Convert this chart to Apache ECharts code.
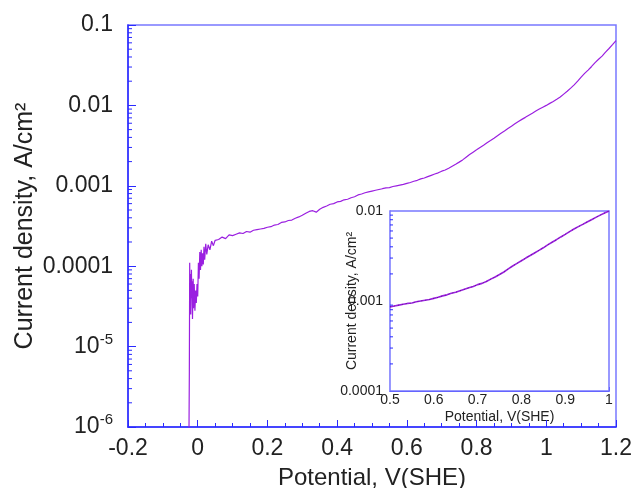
<!DOCTYPE html>
<html>
<head>
<meta charset="utf-8">
<script src="https://cdn.jsdelivr.net/npm/echarts@6/dist/echarts.min.js"></script>
<style>html,body{margin:0;padding:0;background:#fff;}#c{width:634px;height:488px;}</style>
</head>
<body>
<div id="c"></div>
<script>
// Potential (V vs SHE)
const potential = [
  -0.025,-0.024,-0.023,-0.022,-0.021,-0.020,-0.018,-0.017,-0.016,-0.015,-0.013,-0.012,-0.010,-0.008,-0.006,-0.004,-0.002,
  0.000,0.002,0.004,0.006,0.008,0.010,0.012,0.014,0.016,0.018,0.020,0.023,0.026,0.030,0.035,0.040,0.045,0.050,0.055,
  0.060,0.070,0.080,0.090,0.100,0.110,0.120,0.130,0.140,0.150,0.160,0.170,0.180,0.190,0.200,0.210,0.220,0.230,0.240,
  0.250,0.260,0.270,0.280,0.290,0.300,0.310,0.320,0.330,0.340,0.350,0.360,0.370,0.380,0.390,0.400,0.410,0.420,0.430,
  0.440,0.450,0.460,0.470,0.480,0.490,0.500,0.510,0.520,0.530,0.540,0.550,0.560,0.570,0.580,0.590,0.600,0.610,0.620,
  0.630,0.640,0.650,0.660,0.670,0.680,0.690,0.700,0.710,0.720,0.730,0.740,0.750,0.760,0.770,0.780,0.790,0.800,0.810,
  0.820,0.830,0.840,0.850,0.860,0.870,0.880,0.890,0.900,0.910,0.920,0.930,0.940,0.950,0.960,0.970,0.980,0.990,1.000,
  1.010,1.020,1.030,1.040,1.050,1.060,1.070,1.080,1.090,1.100,1.110,1.120,1.130,1.140,1.150,1.160,1.170,1.180,1.190,1.200
];
// Current density (A/cm2)
const current = [
  9e-7,5e-6,1.1e-4,3e-5,8e-5,2.5e-5,9e-5,4e-5,6.5e-5,2.2e-5,7e-5,3e-5,6e-5,2.8e-5,5e-5,3.5e-5,6e-5,
  4.2e-5,1.1e-4,7e-5,1.5e-4,9e-5,1.6e-4,1.0e-4,1.45e-4,1.05e-4,1.75e-4,1.2e-4,1.9e-4,1.4e-4,1.85e-4,1.6e-4,2.05e-4,1.8e-4,2.1e-4,2.0e-4,
  2.15e-4,2.3e-4,2.2e-4,2.45e-4,2.4e-4,2.5e-4,2.6e-4,2.55e-4,2.7e-4,2.65e-4,2.8e-4,2.85e-4,2.9e-4,2.95e-4,3.05e-4,3.1e-4,3.25e-4,3.3e-4,3.5e-4,
  3.55e-4,3.7e-4,3.75e-4,3.95e-4,4.1e-4,4.3e-4,4.55e-4,4.8e-4,4.9e-4,4.7e-4,5.1e-4,5.4e-4,5.6e-4,5.9e-4,6.0e-4,6.3e-4,6.4e-4,6.7e-4,6.8e-4,
  7.1e-4,7.3e-4,7.7e-4,7.9e-4,8.2e-4,8.4e-4,8.6e-4,8.8e-4,9.0e-4,9.2e-4,9.4e-4,9.5e-4,9.8e-4,1.0e-3,1.02e-3,1.04e-3,1.07e-3,1.1e-3,1.14e-3,
  1.17e-3,1.22e-3,1.25e-3,1.3e-3,1.35e-3,1.4e-3,1.45e-3,1.52e-3,1.57e-3,1.65e-3,1.75e-3,1.85e-3,1.97e-3,2.1e-3,2.27e-3,2.45e-3,2.62e-3,2.8e-3,3.0e-3,
  3.2e-3,3.42e-3,3.65e-3,3.9e-3,4.2e-3,4.5e-3,4.8e-3,5.15e-3,5.5e-3,5.9e-3,6.3e-3,6.7e-3,7.1e-3,7.55e-3,8.0e-3,8.5e-3,9.0e-3,9.5e-3,1.0e-2,
  1.06e-2,1.12e-2,1.19e-2,1.27e-2,1.38e-2,1.5e-2,1.64e-2,1.8e-2,2.0e-2,2.25e-2,2.5e-2,2.75e-2,3.05e-2,3.4e-2,3.75e-2,4.1e-2,4.6e-2,5.1e-2,5.7e-2,6.4e-2
];
const xTickLabels = ['-0.2','0','0.2','0.4','0.6','0.8','1','1.2'];
const yTickLabels = ['{b|10}{s|-6}','{b|10}{s|-5}','0.0001','0.001','0.01','0.1'];
const insetXTickLabels = ['0.5','0.6','0.7','0.8','0.9','1'];
const insetYTickLabels = ['0.0001','0.001','0.01'];
const markerPotential = 0.73;
const markerCurrent = 1.75e-3;

const FONT = '"Liberation Sans", Arial, sans-serif';
const TXT = '#222';
const AX = '#2a2aff';
const FRAME = '#7878ff';
const CURVE = '#9a1fe0';

const mainData = potential.map((v, i) => [v, current[i]]);
const insetData = mainData.filter(d => d[0] >= 0.5 && d[0] <= 1.0);

function minorLogTicks(lo, hi) {
  const out = [];
  for (let e = lo; e < hi; e++) for (let m = 2; m <= 9; m++) out.push(m * Math.pow(10, e));
  return out;
}
function xLabel(arr, min, step) {
  return v => arr[Math.round((v - min) / step)] ?? '';
}
function yLabel(arr, lo) {
  return v => arr[Math.round(Math.log10(v)) - lo] ?? '';
}
function tickSeries(xi, yi, xPos, vals, len) {
  return {
    type: 'custom', xAxisIndex: xi, yAxisIndex: yi, silent: true, clip: false, z: 5,
    data: vals.map(v => [xPos, v]),
    renderItem: (params, api) => {
      const p = api.coord([api.value(0), api.value(1)]);
      return { type: 'line', shape: { x1: p[0], y1: p[1], x2: p[0] + len, y2: p[1] },
               style: { stroke: AX, lineWidth: 1 } };
    }
  };
}

const chart = echarts.init(document.getElementById('c'), null, { renderer: 'canvas' });
chart.setOption({
  animation: false,
  backgroundColor: '#fff',
  textStyle: { fontFamily: FONT },
  grid: [
    { left: 128, top: 25, right: 18, bottom: 61, show: true, borderColor: FRAME, borderWidth: 1.5,
      backgroundColor: '#fff', outerBoundsMode: 'none', containLabel: false },
    { left: 390, top: 211, right: 25, bottom: 97, show: true, borderColor: FRAME, borderWidth: 1.5,
      backgroundColor: '#fff', z: 10, outerBoundsMode: 'none', containLabel: false }
  ],
  xAxis: [
    { gridIndex: 0, type: 'value', min: -0.2, max: 1.2, interval: 0.2,
      axisLine: { onZero: false, lineStyle: { color: AX, width: 1.5 } },
      axisTick: { inside: true, length: 7, lineStyle: { color: AX } },
      minorTick: { show: true, splitNumber: 4, length: 4, lineStyle: { color: AX } },
      splitLine: { show: false },
      axisLabel: { color: TXT, fontSize: 23, margin: 10, formatter: xLabel(xTickLabels, -0.2, 0.2), fontFamily: FONT },
      name: 'Potential, V(SHE)', nameLocation: 'middle', nameGap: 39, nameMoveOverlap: false,
      nameTextStyle: { color: TXT, fontSize: 24, fontFamily: FONT } },
    { gridIndex: 1, type: 'value', min: 0.5, max: 1.0, interval: 0.1,
      axisLine: { onZero: false, lineStyle: { color: AX, width: 1.2 } },
      axisTick: { inside: true, length: 4, lineStyle: { color: AX } },
      minorTick: { show: true, splitNumber: 2, length: 3, lineStyle: { color: AX } },
      splitLine: { show: false },
      axisLabel: { color: TXT, fontSize: 14, margin: 2, formatter: xLabel(insetXTickLabels, 0.5, 0.1), fontFamily: FONT },
      name: 'Potential, V(SHE)', nameLocation: 'middle', nameGap: 19, nameMoveOverlap: false,
      nameTextStyle: { color: TXT, fontSize: 14, fontFamily: FONT } }
  ],
  yAxis: [
    { gridIndex: 0, type: 'log', logBase: 10, min: 1e-6, max: 0.1,
      axisLine: { onZero: false, lineStyle: { color: AX, width: 1.5 } },
      axisTick: { inside: true, length: 8, lineStyle: { color: AX } },
      splitLine: { show: false },
      axisLabel: { color: TXT, fontSize: 23, margin: 15, formatter: yLabel(yTickLabels, -6), fontFamily: FONT,
        rich: { b: { fontSize: 23, color: TXT, fontFamily: FONT }, s: { fontSize: 15, color: TXT, fontFamily: FONT, padding: [0, 0, 14, 0] } } },
      name: 'Current density, A/cm²', nameLocation: 'middle', nameGap: 90, nameRotate: 90, nameMoveOverlap: false,
      nameTextStyle: { color: TXT, fontSize: 25, fontFamily: FONT } },
    { gridIndex: 1, type: 'log', logBase: 10, min: 1e-4, max: 1e-2,
      axisLine: { onZero: false, lineStyle: { color: AX, width: 1.2 } },
      axisTick: { inside: true, length: 4, lineStyle: { color: AX } },
      splitLine: { show: false },
      axisLabel: { color: TXT, fontSize: 14, margin: 7, formatter: yLabel(insetYTickLabels, -4), fontFamily: FONT },
      name: 'Current density, A/cm²', nameLocation: 'middle', nameGap: 31, nameRotate: 90, nameMoveOverlap: false,
      nameTextStyle: { color: TXT, fontSize: 14, fontFamily: FONT } }
  ],
  series: [
    { type: 'line', xAxisIndex: 0, yAxisIndex: 0, data: mainData, showSymbol: false, symbol: 'none',
      lineStyle: { color: CURVE, width: 1.2 }, clip: true, z: 3 },
    tickSeries(0, 0, -0.2, minorLogTicks(-6, -1), 4),
    { type: 'line', xAxisIndex: 1, yAxisIndex: 1, data: insetData, showSymbol: false, symbol: 'none',
      lineStyle: { color: CURVE, width: 1.6 }, clip: true, z: 12,
      markLine: { symbol: 'none', silent: true, label: { show: false },
        lineStyle: { type: 'dotted', color: '#555', width: 1 },
        data: [[{ coord: [markerPotential, 1e-4] }, { coord: [markerPotential, markerCurrent] }]] } },
    { type: 'line', xAxisIndex: 1, yAxisIndex: 1, data: insetData, showSymbol: false, symbol: 'none',
      lineStyle: { color: '#3a1050', width: 0.6, type: [1, 3] }, clip: true, z: 13 },
    Object.assign(tickSeries(1, 1, 0.5, minorLogTicks(-4, -2), 3), { z: 14 })
  ]
});
</script>
</body>
</html>
